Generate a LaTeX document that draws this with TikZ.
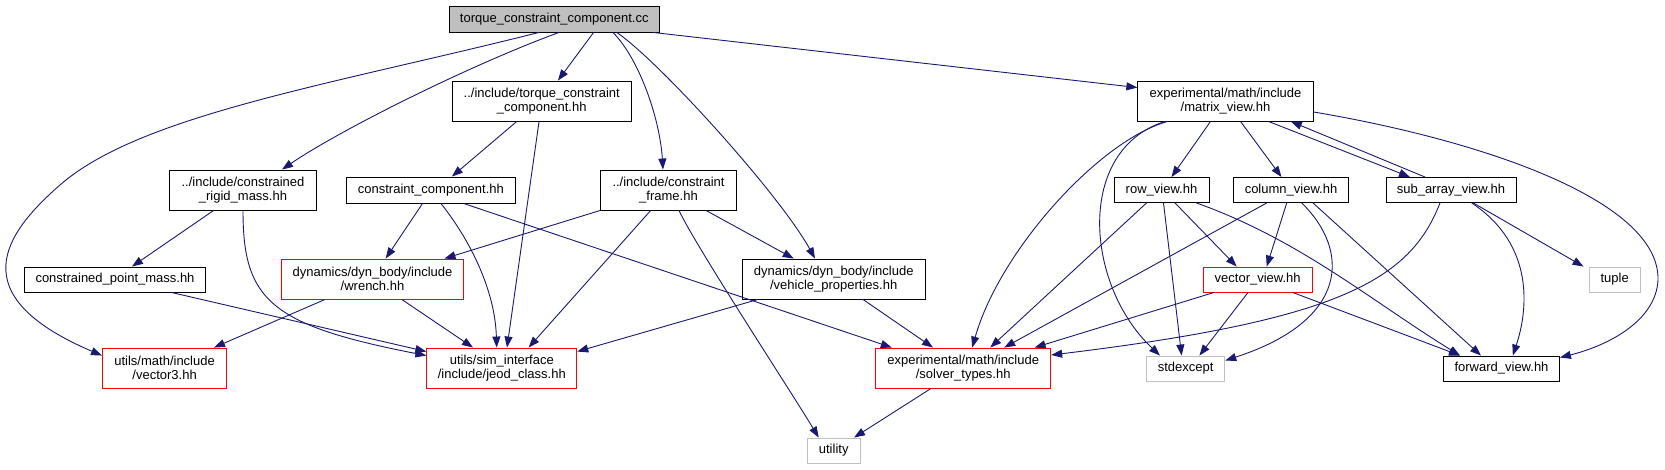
\documentclass[tikz,border=0pt]{standalone}
\usepackage{fontspec}
\setmainfont{Liberation Sans}
\usetikzlibrary{arrows.meta}
\definecolor{edgeblue}{HTML}{191970}
\definecolor{extgray}{HTML}{BFBFBF}
\begin{document}
\begin{tikzpicture}[
    x=1pt, y=-1pt,
    filebox/.style={draw=black, fill=white, line width=0.9pt, inner sep=0pt, align=center,
                    font=\fontsize{13}{14.5}\selectfont},
    onerow/.style={minimum height=25pt},
    tworow/.style={minimum height=40pt},
    rootbox/.style={fill=extgray},
    redbox/.style={draw=red},
    graybox/.style={draw=extgray},
    dep/.style={draw=edgeblue, line width=0.9pt, -{Triangle[length=11pt,width=8pt]}}
]
    \useasboundingbox (0,0) rectangle (1665,469);

    % nodes
    \node[filebox, rootbox, onerow, minimum height=26pt, minimum width=210.6pt] (root) at (554.3,19) {torque\_constraint\_component.cc};
    \node[filebox, tworow, minimum width=178.5pt] (tcchh) at (541.75,101) {../include/torque\_constraint\\\_component.hh};
    \node[filebox, tworow, minimum width=175.4pt] (mv) at (1225.5,101) {experimental/math/include\\/matrix\_view.hh};
    \node[filebox, tworow, minimum width=146.8pt] (crm) at (243,190) {../include/constrained\\\_rigid\_mass.hh};
    \node[filebox, onerow, minimum height=26pt, minimum width=169pt] (cc) at (430.9,190) {constraint\_component.hh};
    \node[filebox, tworow, minimum width=135.7pt] (cf) at (668.5,190) {../include/constraint\\\_frame.hh};
    \node[filebox, onerow, minimum width=95pt] (rv) at (1161.5,190) {row\_view.hh};
    \node[filebox, onerow, minimum width=115pt] (colv) at (1291,190) {column\_view.hh};
    \node[filebox, onerow, minimum width=130pt] (sav) at (1451,190) {sub\_array\_view.hh};
    \node[filebox, onerow, minimum width=181.7pt] (cpm) at (115,279.5) {constrained\_point\_mass.hh};
    \node[filebox, redbox, tworow, minimum width=182.2pt] (wr) at (372.5,279) {dynamics/dyn\_body/include\\/wrench.hh};
    \node[filebox, tworow, minimum width=182.5pt] (vp) at (833.7,279) {dynamics/dyn\_body/include\\/vehicle\_properties.hh};
    \node[filebox, redbox, onerow, minimum width=109.4pt] (vv) at (1257.7,279.5) {vector\_view.hh};
    \node[filebox, graybox, onerow, minimum width=51.4pt] (tup) at (1614.7,279.5) {tuple};
    \node[filebox, redbox, tworow, minimum width=124.3pt] (v3) at (164.6,368) {utils/math/include\\/vector3.hh};
    \node[filebox, redbox, tworow, minimum width=150pt] (jc) at (501.8,368) {utils/sim\_interface\\/include/jeod\_class.hh};
    \node[filebox, redbox, tworow, minimum width=175pt] (st) at (963.2,368) {experimental/math/include\\/solver\_types.hh};
    \node[filebox, graybox, onerow, minimum width=78.4pt] (stx) at (1185.6,368.5) {stdexcept};
    \node[filebox, onerow, minimum width=116pt] (fv) at (1501.5,368.5) {forward\_view.hh};
    \node[filebox, graybox, onerow, minimum width=53.4pt] (ut) at (833.7,450.5) {utility};

    % edges from the source file
    \draw[dep] ([xshift=-15.3pt]root.south) .. controls (330,85) and (140,115) .. (60,185)
               .. controls (5,233) and (-40,295) .. ([yshift=-8pt]v3.north west);
    \draw[dep] ([xshift=4.7pt]root.south) .. controls (470,65) and (340,130) .. ([xshift=39pt]crm.north);
    \draw[dep] ([xshift=39.3pt]root.south) -- ([xshift=16.2pt]tcchh.north);
    \draw[dep] ([xshift=58.7pt]root.south) .. controls (640,60) and (660,120) .. ([xshift=-5.5pt]cf.north);
    \draw[dep] ([xshift=62.5pt]root.south) .. controls (660,62) and (780,195) .. ([xshift=-18.7pt]vp.north);
    \draw[dep] ([xshift=-7pt]root.south east) -- ([yshift=-7pt]mv.north west);

    % left part
    \draw[dep] ([xshift=-25pt]tcchh.south) -- ([xshift=21pt]cc.north);
    \draw[dep] ([xshift=-2.7pt]tcchh.south) -- ([xshift=5.2pt]jc.north);
    \draw[dep] ([xshift=-29.4pt]crm.south) -- ([xshift=17pt]cpm.north);
    \draw[dep] (crm.south) .. controls (243,300) and (270,325) .. ([yshift=-8pt]jc.north west);
    \draw[dep] ([xshift=56.4pt]cpm.south) -- ([yshift=-4pt]jc.north west);
    \draw[dep] ([xshift=-8.4pt]cc.south) -- ([xshift=13.2pt]wr.north);
    \draw[dep] ([xshift=10pt]cc.south) .. controls (470,240) and (495,290) .. ([xshift=-5.1pt]jc.north);
    \draw[dep] ([xshift=32.7pt]cc.south) -- ([xshift=-71.4pt]st.north);
    \draw[dep] (cf.south west) -- ([xshift=72pt]wr.north);
    \draw[dep] ([xshift=-17.8pt]cf.south) -- ([xshift=26.8pt]jc.north);
    \draw[dep] ([xshift=10.5pt]cf.south) .. controls (695,245) and (790,390) .. ([xshift=-15pt]ut.north);
    \draw[dep] ([xshift=37.5pt]cf.south) -- ([xshift=-40pt]vp.north);
    \draw[dep] ([xshift=-47.5pt]wr.south) -- ([xshift=49.4pt]v3.north);
    \draw[dep] ([xshift=29.3pt]wr.south) -- ([xshift=-28.8pt]jc.north);
    \draw[dep] ([xshift=-75.8pt]vp.south) -- ([yshift=-4pt]jc.north east);
    \draw[dep] ([xshift=29.3pt]vp.south) -- ([xshift=-30.2pt]st.north);
    \draw[dep] ([xshift=-32.2pt]st.south) -- ([xshift=20.3pt]ut.north);

    % right part
    \draw[dep] ([xshift=-15pt]mv.south) -- ([xshift=10pt]rv.north);
    \draw[dep] ([xshift=15pt]mv.south) -- ([xshift=-9.5pt]colv.north);
    \draw[dep] ([xshift=43pt]mv.south) -- ([xshift=-41pt]sav.north);
    \draw[dep] ([xshift=-26pt]sav.north) -- ([xshift=65.3pt]mv.south);
    \draw[dep] ([yshift=-11pt]mv.east) .. controls (1480,140) and (1660,200) .. (1658,280)
               .. controls (1656,320) and (1610,345) .. ([yshift=-2pt]fv.north east);
    \draw[dep] ([xshift=-57.8pt]mv.south) .. controls (1100,140) and (1000,250) .. ([xshift=9pt]st.north);
    \draw[dep] ([xshift=-60.5pt]mv.south) .. controls (1075,150) and (1085,285) .. ([xshift=-25.6pt]stx.north);
    \draw[dep] ([xshift=-15pt]rv.south) -- ([xshift=27pt]st.north);
    \draw[dep] ([xshift=2pt]rv.south) -- ([xshift=-4pt]stx.north);
    \draw[dep] ([xshift=13.5pt]rv.south) -- ([xshift=-21pt]vv.north);
    \draw[dep] ([xshift=35pt]rv.south) .. controls (1300,240) and (1370,300) .. ([xshift=-41.5pt]fv.north);
    \draw[dep] ([xshift=-24.3pt]colv.south) -- ([xshift=41pt]st.north);
    \draw[dep] ([xshift=-4.3pt]colv.south) -- ([xshift=9pt]vv.north);
    \draw[dep] ([xshift=10.7pt]colv.south) .. controls (1350,250) and (1350,320) .. ([yshift=8pt]stx.east);
    \draw[dep] ([xshift=22pt]colv.south) -- ([xshift=-20.5pt]fv.north);
    \draw[dep] ([xshift=-11pt]sav.south) .. controls (1410,280) and (1340,320) .. ([yshift=13pt]st.east);
    \draw[dep] ([xshift=20.7pt]sav.south) .. controls (1535,245) and (1528,310) .. ([xshift=11.3pt]fv.north);
    \draw[dep] ([xshift=22.3pt]sav.south) -- ([xshift=-5pt]tup.north west);
    \draw[dep] ([xshift=-43.7pt]vv.south) -- ([xshift=71.4pt]st.north);
    \draw[dep] ([xshift=-9.7pt]vv.south) -- ([xshift=13.8pt]stx.north);
    \draw[dep] ([xshift=35pt]vv.south) -- ([xshift=-41.5pt]fv.north);
\end{tikzpicture}
\end{document}
